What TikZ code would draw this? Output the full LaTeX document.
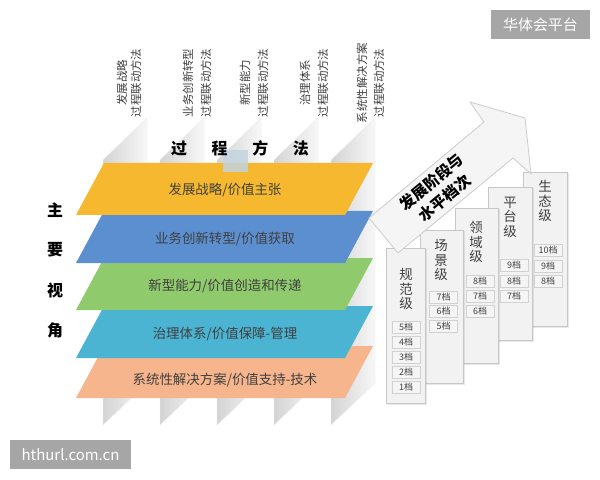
\documentclass[tikz,border=0pt]{standalone}
\usepackage{fontspec}
\setmainfont{Noto Sans CJK SC}
\usetikzlibrary{shadows}
\definecolor{pyellow}{HTML}{F5B82E}
\definecolor{pblue}{HTML}{5B8FCF}
\definecolor{pgreen}{HTML}{8FCB6C}
\definecolor{pcyan}{HTML}{4BB4D2}
\definecolor{porange}{HTML}{F6B58C}
\definecolor{txt}{HTML}{404040}
\definecolor{wmgray}{HTML}{A6A6A6}
\definecolor{smallblue}{HTML}{C3D4DF}
\begin{document}
\begin{tikzpicture}[x=1bp,y=-1bp,
  strip/.style={left color=black!17, right color=black!3, draw=black!8},
  planetext/.style={font=\fontsize{13.5}{16}\selectfont, text=txt, inner sep=0},
  toplabel/.style={rotate=90, font=\fontsize{11.5}{13}\selectfont, text=txt, inner sep=0},
  col/.style={fill=black!5, draw=black!22, line width=0.8bp, inner sep=0,
    drop shadow={opacity=0.18, shadow xshift=1.5bp, shadow yshift=-1.5bp}},
  collabel/.style={align=center, font=\fontsize{13.5}{14.5}\selectfont, text=txt, inner sep=0},
  levelbox/.style={draw=black!18, fill=black!4, minimum width=28bp, minimum height=12bp,
    inner sep=0, font=\fontsize{9}{10}\selectfont, text=txt},
  bigbold/.style={font=\fontsize{16}{18}\selectfont\bfseries, text=black, inner sep=0},
  arrowshape/.style={fill=black!4, draw=black!20, line width=0.8bp},
  arrowtext/.style={font=\fontsize{15.5}{21}\selectfont\bfseries, text=black, align=center, inner sep=0},
  wm/.style={fill=wmgray, text=white, inner sep=0, font=\fontsize{15}{17}\selectfont}
]
\useasboundingbox (0,0) rectangle (600,480);
\fill[white] (0,0) rectangle (600,480);

% vertical process strips
\foreach \i in {0,...,4} {
  \pgfmathsetmacro{\L}{103+57*\i}
  \pgfmathsetmacro{\R}{\L+44}
  \path[strip] (\L,160) -- (\R,118) -- (\R,383) -- (\L,425) -- cycle;
}

% perspective planes (bottom first)
\foreach \T/\c in {346/porange, 306/pcyan, 258/pgreen, 211/pblue, 163/pyellow} {
  \fill[\c] (104,\T) -- (373,\T) -- (345,\T+52) -- (76,\T+52) -- cycle;
}
\node[planetext] (v1) at (225,190) {发展战略/价值主张};
\node[planetext] (v2) at (225,239) {业务创新转型/价值获取};
\node[planetext] (v3) at (225,286) {新型能力/价值创造和传递};
\node[planetext] (v4) at (225,334) {治理体系/价值保障-管理};
\node[planetext] (v5) at (225,380) {系统性解决方案/价值支持-技术};

% small blue box
\fill[smallblue, opacity=0.85] (223,150) rectangle (248,172);

% level columns (back to front)
\node[col, minimum width=44bp, minimum height=154bp] (c5) at (545,249) {};
\node[collabel] (c5l) at (545,201) {生\\态\\级};
\node[levelbox] (c5a) at (548,250) {10档};
\node[levelbox] (c5b) at (548,266) {9档};
\node[levelbox] (c5c) at (548,281) {8档};

\node[col, minimum width=44bp, minimum height=153bp] (c4) at (510,263.5) {};
\node[collabel] (c4l) at (510,217) {平\\台\\级};
\node[levelbox] (c4a) at (514,265) {9档};
\node[levelbox] (c4b) at (514,281) {8档};
\node[levelbox] (c4c) at (514,296) {7档};

\node[col, minimum width=43bp, minimum height=155bp] (c3) at (476.5,285.5) {};
\node[collabel] (c3l) at (476,242) {领\\域\\级};
\node[levelbox] (c3a) at (480,281) {8档};
\node[levelbox] (c3b) at (480,296) {7档};
\node[levelbox] (c3c) at (480,311) {6档};

\node[col, minimum width=43bp, minimum height=153bp] (c2) at (441.5,306.5) {};
\node[collabel] (c2l) at (441,260) {场\\景\\级};
\node[levelbox] (c2a) at (443.5,297) {7档};
\node[levelbox] (c2b) at (443.5,311) {6档};
\node[levelbox] (c2c) at (443.5,326) {5档};

\node[col, minimum width=39bp, minimum height=155bp] (c1) at (405.5,325.5) {};
\node[collabel] (c1l) at (406,289) {规\\范\\级};
\node[levelbox] (c1a) at (406,327) {5档};
\node[levelbox] (c1b) at (406,342) {4档};
\node[levelbox] (c1c) at (406,357) {3档};
\node[levelbox] (c1d) at (406,372) {2档};
\node[levelbox] (c1e) at (406,387) {1档};

% big arrow
\draw[arrowshape] (369,218) -- (484,122) -- (470,102) -- (525,118) -- (531,174)
  -- (513,158) -- (398,253) -- cycle;
\node[arrowtext, rotate=39.6] (arrtxt) at (438,190) {发展阶段与\\水平档次};

% top rotated labels
\node[toplabel] (t1a) at (122,83) {发展战略};
\node[toplabel] (t1b) at (136,83) {过程联动方法};
\node[toplabel] (t2a) at (188,83) {业务创新转型};
\node[toplabel] (t2b) at (206,83) {过程联动方法};
\node[toplabel] (t3a) at (245,83) {新型能力};
\node[toplabel] (t3b) at (263,83) {过程联动方法};
\node[toplabel] (t4a) at (305,83) {治理体系};
\node[toplabel] (t4b) at (323,83) {过程联动方法};
\node[toplabel] (t5a) at (362,83) {系统性解决方案};
\node[toplabel] (t5b) at (379,83) {过程联动方法};

% headings
\node[bigbold] (pm) at (240,148) {过\hspace{24.7bp}程\hspace{24.7bp}方\hspace{24.7bp}法};
\node[bigbold] (s1) at (55,210) {主};
\node[bigbold] (s2) at (55,250) {要};
\node[bigbold] (s3) at (55,290) {视};
\node[bigbold] (s4) at (55,330) {角};

% watermarks
\node[wm, minimum width=99bp, minimum height=29bp] (wm1) at (540.5,24.5) {华体会平台};
\node[wm, minimum width=121bp, minimum height=29bp] (wm2) at (70.5,454.5) {hthurl.com.cn};
\end{tikzpicture}
\end{document}
